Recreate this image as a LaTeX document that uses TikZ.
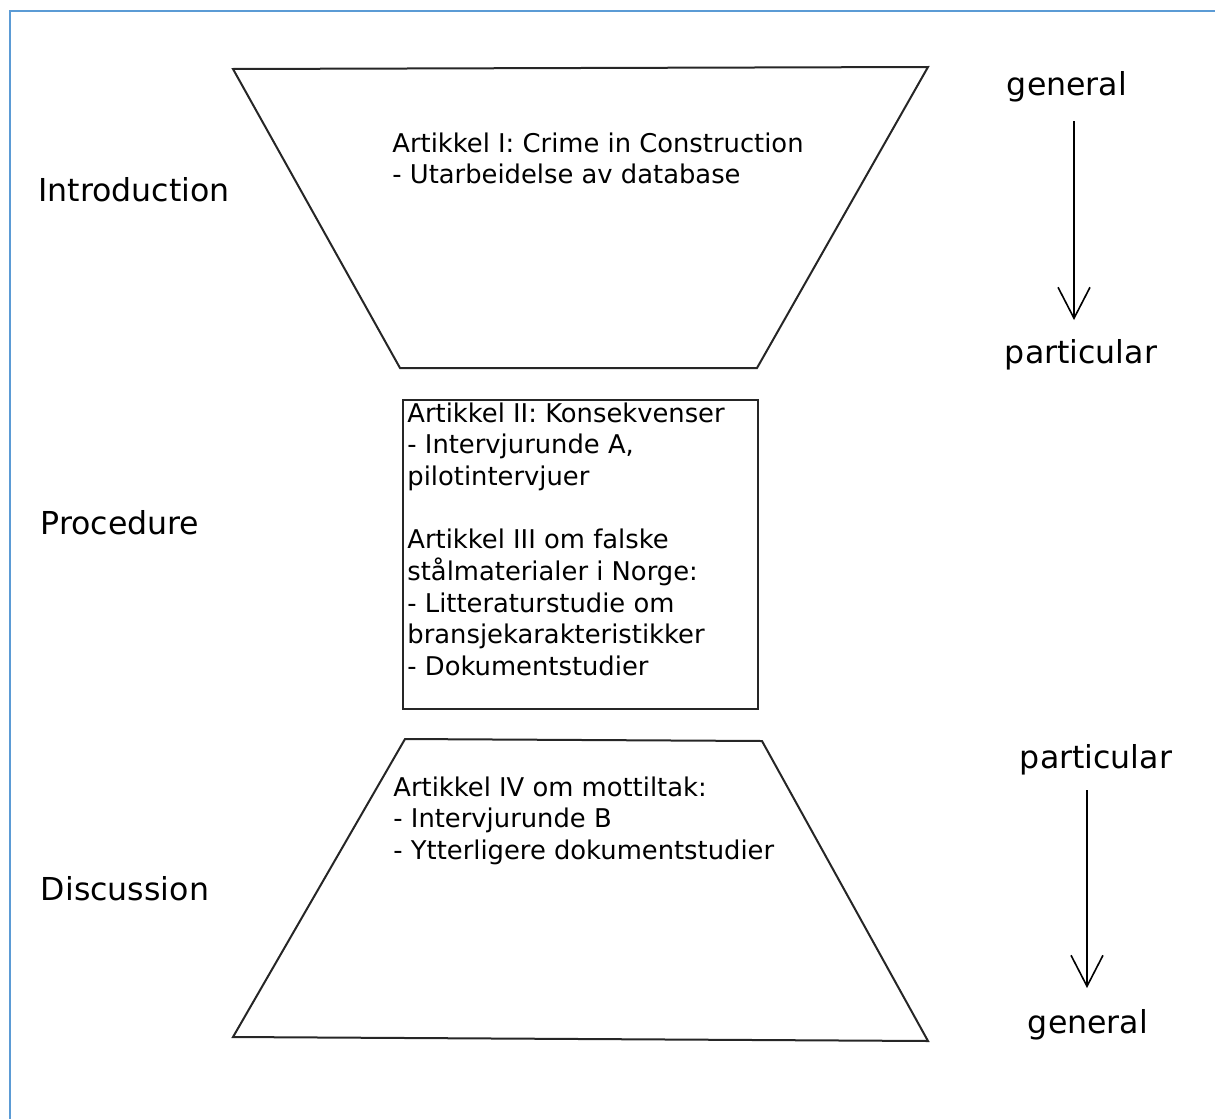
\documentclass[tikz,border=0pt]{standalone}
\usepackage{fontspec}
\setmainfont{DejaVu Sans}
\usetikzlibrary{arrows.meta,positioning}
\definecolor{framecol}{RGB}{91,155,213}
\tikzset{
    shapeline/.style={draw=black!85, line width=1pt},
    boxtext/.style={anchor=north west, inner sep=0pt, align=left,
      font=\fontsize{12.9}{15.85}\selectfont},
    stagelabel/.style={anchor=base, inner sep=0pt,
      font=\fontsize{15.8}{19}\selectfont},
    flow/.style={-{Straight Barb[length=15.5pt,width=16pt]}, line width=0.8pt},
  }

\begin{document}
\begin{tikzpicture}[x=0.5pt,y=-0.5pt]
    \useasboundingbox (0,0) rectangle (1215,1119);
    \draw[framecol, line width=1.3pt] (10,1119) -- (10,11) -- (1215,11);

    %% introduction
    \draw[shapeline] (233,69) -- (928,67) -- (757,368) -- (400,368) -- cycle;
    \node[boxtext] (art1) at (392,132) {Artikkel I: Crime in Construction\\- Utarbeidelse av database};
    \node[stagelabel] (intro) at (134,201) {Introduction};

    %% procedure
    \node[shapeline, minimum width=177.5pt, minimum height=154.5pt, anchor=north west] (box) at (402,399) {};
    \node[boxtext] (art23) at (407,402) {Artikkel II: Konsekvenser\\- Intervjurunde A,\\pilotintervjuer\\[15.85pt]Artikkel III om falske\\stålmaterialer i Norge:\\- Litteraturstudie om\\bransjekarakteristikker\\- Dokumentstudier};
    \node[stagelabel] (proc) at (120,534) {Procedure};

    %% discussion
    \draw[shapeline] (405,739) -- (762,741) -- (928,1041) -- (233,1037) -- cycle;
    \node[boxtext] (art4) at (393,776) {Artikkel IV om mottiltak:\\- Intervjurunde B\\- Ytterligere dokumentstudier};
    \node[stagelabel] (disc) at (125,900) {Discussion};

    %% general -> particular
    \node[stagelabel] (gen1) at (1067,95) {general};
    \node[stagelabel] (part1) at (1081,363) {particular};
    \coordinate (a1) at (1074,121);
    \coordinate (b1) at (1074,320);
    \draw[flow] (a1) -- (b1);

    %% particular -> general
    \node[stagelabel] (part2) at (1096,768) {particular};
    \node[stagelabel] (gen2) at (1088,1033) {general};
    \coordinate (a2) at (1087,790);
    \coordinate (b2) at (1087,988);
    \draw[flow] (a2) -- (b2);
  \end{tikzpicture}
\end{document}
